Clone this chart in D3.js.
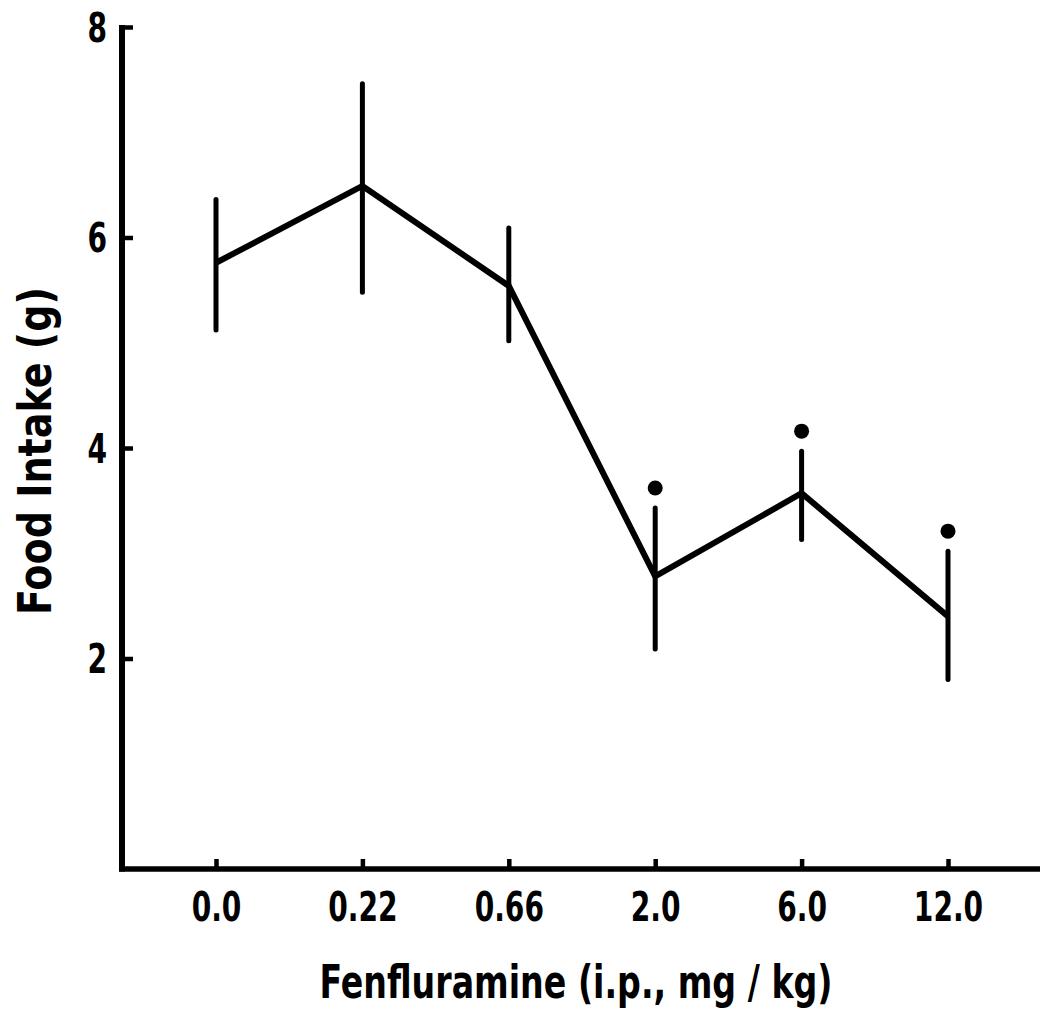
<!DOCTYPE html>
<html>
<head>
<meta charset="utf-8">
<script src="https://cdn.jsdelivr.net/npm/d3@7"></script>
<style>
  html, body { margin: 0; padding: 0; background: #fff; }
  svg { display: block; }
  text { font-family: "Liberation Sans Narrow", "DejaVu Sans Condensed", "Liberation Sans", sans-serif; font-weight: bold; fill: #000; }
</style>
</head>
<body>
<svg id="chart" width="1040" height="1011"></svg>
<script>
// Data
const doses = ["0.0", "0.22", "0.66", "2.0", "6.0", "12.0"];
const meanIntake = [5.76, 6.49, 5.54, 2.78, 3.57, 2.40];
const errUpper = [6.36, 7.46, 6.09, 3.43, 3.97, 3.02];
const errLower = [5.12, 5.48, 5.02, 2.09, 3.13, 1.80];
const significant = [false, false, false, true, true, true];
const yTicks = [2, 4, 6, 8];
const xTitle = "Fenfluramine  (i.p., mg / kg)";
const yTitle = "Food Intake (g)";

const W = 1040, H = 1011;
const axisX = 122, axisY = 869, topY = 27, rightX = 1040;
const svg = d3.select("#chart");

const x = d3.scalePoint().domain(doses).range([216, 948]);
const y = d3.scaleLinear().domain([0, 8]).range([axisY, topY]);

const data = doses.map((d, i) => ({ dose: d, mean: meanIntake[i], hi: errUpper[i], lo: errLower[i], sig: significant[i] }));

function narrow(sel, f) {
  sel.each(function () {
    const w = this.getComputedTextLength();
    d3.select(this).attr("textLength", w * f).attr("lengthAdjust", "spacingAndGlyphs");
  });
}

// Y axis
const yAxis = d3.axisLeft(y).tickValues(yTicks).tickSize(-11).tickPadding(26).tickFormat(d3.format("d"));
const gy = svg.append("g").attr("transform", `translate(${axisX},0)`).call(yAxis);
gy.select(".domain").remove();
gy.selectAll(".tick line").attr("stroke", "#000").attr("stroke-width", 4.5);
gy.selectAll(".tick text").style("font-size", "40px").attr("dy", "0.36em").attr("x", -15).call(narrow, 0.78);
svg.append("line").attr("x1", axisX).attr("x2", axisX).attr("y1", y(8) - 2).attr("y2", axisY + 2.5)
  .attr("stroke", "#000").attr("stroke-width", 6);

// X axis
const xAxis = d3.axisBottom(x).tickSize(-10).tickPadding(0);
const gx = svg.append("g").attr("transform", `translate(0,${axisY})`).call(xAxis);
gx.select(".domain").remove();
gx.selectAll(".tick line").attr("stroke", "#000").attr("stroke-width", 4.5);
gx.selectAll(".tick text").style("font-size", "40px").attr("y", 52).attr("dy", 0).call(narrow, 0.78);
svg.append("line").attr("x1", axisX - 3).attr("x2", rightX).attr("y1", axisY).attr("y2", axisY)
  .attr("stroke", "#000").attr("stroke-width", 5.5);

// Error bars
svg.append("g").selectAll("line").data(data).join("line")
  .attr("x1", d => x(d.dose)).attr("x2", d => x(d.dose))
  .attr("y1", d => y(d.hi)).attr("y2", d => y(d.lo))
  .attr("stroke", "#000").attr("stroke-width", 5).attr("stroke-linecap", "round");

// Mean line
svg.append("path").datum(data)
  .attr("d", d3.line().x(d => x(d.dose)).y(d => y(d.mean)))
  .attr("fill", "none").attr("stroke", "#000").attr("stroke-width", 6).attr("stroke-linejoin", "miter");

// Significance dots
svg.append("g").selectAll("circle").data(data.filter(d => d.sig)).join("circle")
  .attr("cx", d => x(d.dose)).attr("cy", d => y(d.hi) - 20)
  .attr("r", 7.5).attr("fill", "#000");

// Axis titles
svg.append("text").attr("x", 576).attr("y", 998).attr("text-anchor", "middle")
  .style("font-size", "46px").attr("textLength", 513).attr("lengthAdjust", "spacingAndGlyphs")
  .text(xTitle);
svg.append("text").attr("transform", "translate(51,451) rotate(-90)").attr("text-anchor", "middle")
  .style("font-size", "46px").attr("textLength", 328).attr("lengthAdjust", "spacingAndGlyphs")
  .text(yTitle);
</script>
</body>
</html>
